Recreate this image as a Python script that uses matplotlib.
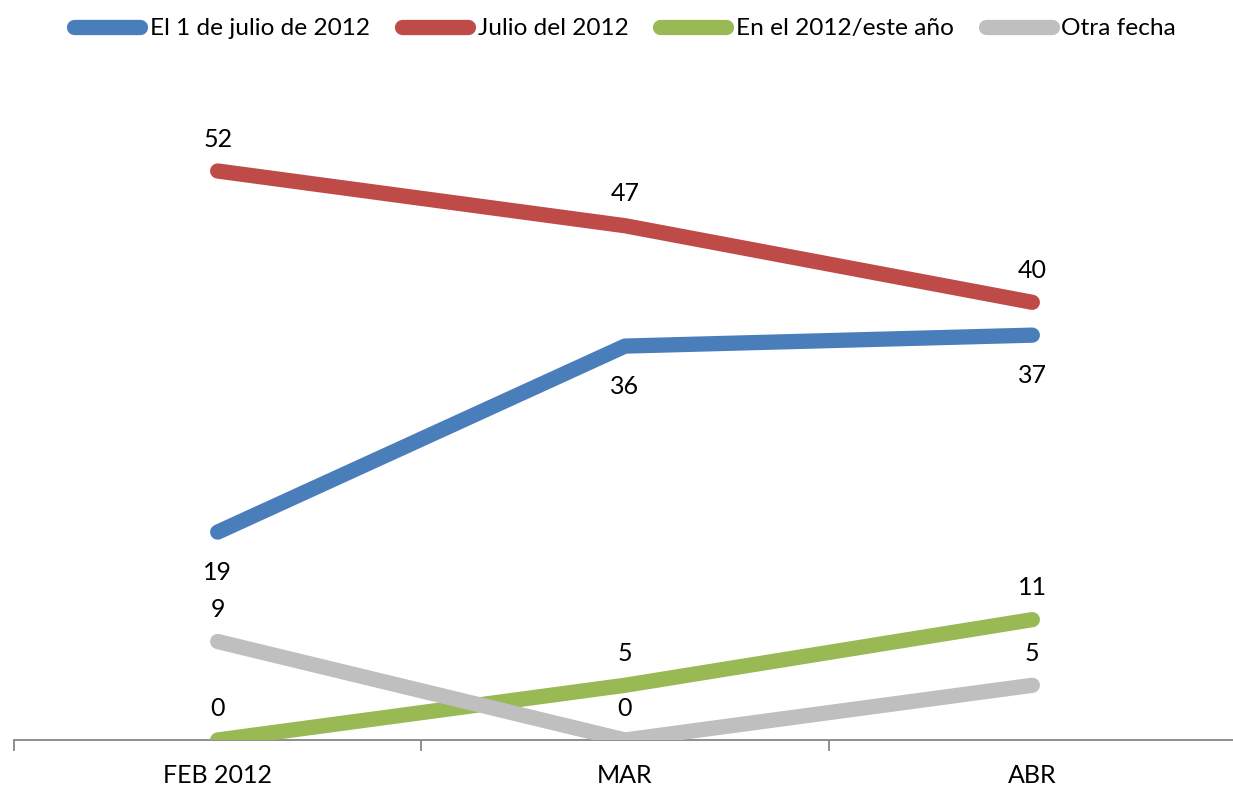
import numpy as np
import matplotlib.pyplot as plt

plt.rcParams['font.family'] = ['Lato', 'DejaVu Sans']

months = ['FEB 2012', 'MAR', 'ABR']
series_names = ['El 1 de julio de 2012', 'Julio del 2012', 'En el 2012/este año', 'Otra fecha']
el_1_julio = [19, 36, 37]
julio_2012 = [52, 47, 40]
en_2012 = [0, 5, 11]
otra_fecha = [9, 0, 5]

colors = ['#4a7ebb', '#be4b48', '#98b954', '#bfbfbf']
# label offsets in points: above (+) or below (-) the point
offsets = [
    [-29, -29, -29],
    [23, 23, 23],
    [23, 23, 23],
    [23, 23, 23],
]

fig = plt.figure(figsize=(12.33, 7.91), dpi=100)
ax = fig.add_axes([14 / 1233, 51 / 791, 1222 / 1233, 0.83])

x = np.arange(len(months))
all_series = [el_1_julio, julio_2012, en_2012, otra_fecha]
lines = []
for vals, col, offs in zip(all_series, colors, offsets):
    ln, = ax.plot(x, vals, color=col, lw=11, solid_capstyle='round')
    lines.append(ln)
    for xi, v, o in zip(x, vals, offs):
        ax.annotate(str(v), (xi, v), xytext=(0, o), textcoords='offset points',
                    ha='center', va='center', fontsize=18, color='black',
                    annotation_clip=False)

ax.set_xlim(-0.5, 2.5)
ax.set_ylim(0, 60)
ax.set_yticks([])
for s in ['top', 'right', 'left']:
    ax.spines[s].set_visible(False)
ax.spines['bottom'].set_color('#868686')
ax.spines['bottom'].set_linewidth(1.3)
ax.spines['bottom'].set_zorder(0)

ax.set_xticks([-0.5, 0.5, 1.5, 2.5])
ax.set_xticklabels([])
ax.set_xticks(x, minor=True)
ax.set_xticklabels(months, minor=True, fontsize=18)
ax.tick_params(axis='x', which='major', length=8, width=1.3, color='#868686')
ax.tick_params(axis='x', which='minor', length=0, pad=17)

fig.legend(lines, series_names, loc='upper center', bbox_to_anchor=(0.507, 1.005),
           ncol=4, frameon=False, fontsize=17.6, handlelength=2.7,
           handletextpad=0.4, columnspacing=1.3)

fig.savefig('out.png', dpi=100)
